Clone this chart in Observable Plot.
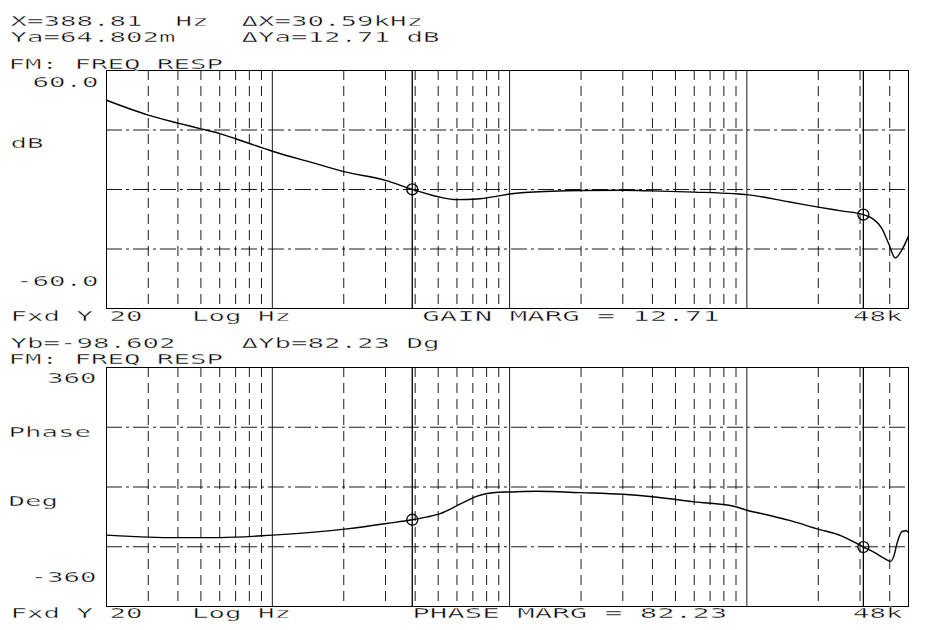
<!DOCTYPE html>
<html><head><meta charset="utf-8">
<script src="https://cdn.jsdelivr.net/npm/d3@7"></script>
<script src="https://cdn.jsdelivr.net/npm/@observablehq/plot@0.6"></script>
<style>body{margin:0;background:#fff} svg{display:block} .pa text,.pb text{stroke:#fff;stroke-width:0.35px}</style>
</head><body><div id="chart"></div>
<script>
// ---- data ----
const gainFreqHz = [20, 30, 40, 50, 60, 70, 80, 100, 150, 200, 300, 388.81, 450, 510, 600, 730, 900, 1000, 1500, 2000, 3000, 4000, 6000, 8800, 10000, 15000, 20000, 25000, 30979, 34000, 37000, 39500, 42200, 45000, 48000];
const gainDb     = [45, 37.5, 33.5, 30.6, 28.2, 25.6, 23.2, 19.3, 13.3, 9, 4.6, 0.065, -2.2, -3.9, -5.1, -4.8, -3.2, -2.3, -0.9, -0.5, -0.4, -0.7, -1.3, -2.1, -2.6, -6.2, -8.9, -10.8, -12.65, -14.8, -19.5, -27, -34.5, -30.5, -23.5];
const phaseFreqHz = [20, 30, 40, 60, 100, 150, 206, 310, 388.81, 450, 510, 620, 730, 900, 1000, 1300, 2000, 3000, 4000, 6000, 8800, 10000, 12500, 15000, 20000, 25000, 30979, 34600, 37800, 40300, 41600, 43000, 45100, 46900, 48000];
const phaseDeg    = [-145, -151, -152.5, -152.5, -145, -136, -126, -109, -98.6, -90, -80, -51, -27.5, -16, -15, -13, -17, -22, -29.5, -44.7, -58, -70, -86, -100, -127, -147, -180.8, -198, -214, -224, -209, -168, -134, -132, -137];
const markerFreqHz   = [388.81, 30979];
const markerGainDb   = [0.0648, -12.645];
const markerPhaseDeg = [-98.602, -180.832];
const decadeLines = [100, 1000, 10000];
const minorLines  = [30, 40, 50, 60, 70, 80, 90, 200, 300, 400, 500, 600, 700, 800, 900, 2000, 3000, 4000, 5000, 6000, 7000, 8000, 9000, 20000, 30000, 40000];
const gainGrid  = [30, 0, -30];
const phaseGrid = [180, 0, -180];
const freqDomain  = [20, 48000];
const gainDomain  = [-60, 60];
const phaseDomain = [-360, 360];
const gainHeader  = ["X=388.81  Hz  ΔX=30.59kHz", "Ya=64.802m    ΔYa=12.71 dB"];
const phaseHeader = ["Yb=-98.602    ΔYb=82.23 Dg"];
const traceTitle  = "FM: FREQ RESP";
const gainTickLabels  = ["60.0", "-60.0"];
const phaseTickLabels = ["360", "-360"];
const gainUnit  = "dB";
const phaseUnit = ["Phase", "Deg"];
const scaleNote = "Fxd Y 20   Log Hz";
const gainNote  = "GAIN MARG = 12.71";
const phaseNote = "PHASE MARG = 82.23";
const stopLabel = "48k";

const gainData  = gainFreqHz.map((f, i) => ({f, v: gainDb[i]}));
const phaseData = phaseFreqHz.map((f, i) => ({f, v: phaseDeg[i]}));
const gainMarks  = markerFreqHz.map((f, i) => ({f, v: markerGainDb[i]}));
const phaseMarks = markerFreqHz.map((f, i) => ({f, v: markerPhaseDeg[i]}));

const ink = "#000";
const style = {background: "#fff", color: ink, fontFamily: "'DejaVu Sans Mono', monospace", fontSize: "13.5px"};

function gridMarks(grid) {
  return [
    Plot.ruleX(minorLines, {stroke: ink, strokeWidth: 0.9, strokeDasharray: "10,6"}),
    Plot.ruleX(decadeLines, {stroke: ink, strokeWidth: 0.9}),
    Plot.ruleY(grid, {stroke: ink, strokeWidth: 0.9, strokeDasharray: "16,4,3,4"}),
    Plot.frame({stroke: ink, strokeWidth: 1}),
    Plot.ruleX(markerFreqHz, {stroke: ink, strokeWidth: 1.3})
  ];
}

const gainPlot = Plot.plot({
  width: 939, height: 328,
  marginLeft: 106, marginRight: 31, marginTop: 70, marginBottom: 20,
  x: {type: "log", domain: freqDomain, axis: null},
  y: {domain: gainDomain, axis: null},
  style,
  marks: [
    ...gridMarks(gainGrid),
    Plot.line(gainData, {x: "f", y: "v", stroke: ink, strokeWidth: 1.4, curve: "monotone-x"}),
    Plot.dot(gainMarks, {x: "f", y: "v", r: 5.5, stroke: ink, strokeWidth: 1.3, fill: "none"}),
    Plot.text([gainHeader[0]], {frameAnchor: "top-left", textAnchor: "start", dx: -96, dy: -54, className: "pa"}),
    Plot.text([gainHeader[1]], {frameAnchor: "top-left", textAnchor: "start", dx: -96, dy: -38, className: "pa"}),
    Plot.text([traceTitle], {frameAnchor: "top-left", textAnchor: "start", dx: -98, dy: -11, className: "pa"}),
    Plot.text([gainTickLabels[0]], {frameAnchor: "top-left", textAnchor: "end", dx: -8, dy: 7, className: "pa"}),
    Plot.text([gainTickLabels[1]], {frameAnchor: "bottom-left", textAnchor: "end", dx: -8, dy: -23, className: "pa"}),
    Plot.text([gainUnit], {frameAnchor: "top-left", textAnchor: "start", dx: -96, dy: 68, className: "pa"}),
    Plot.text([scaleNote], {frameAnchor: "bottom-left", textAnchor: "start", dx: -96, dy: 12, className: "pa"}),
    Plot.text([gainNote], {x: [markerFreqHz[0]], frameAnchor: "bottom", textAnchor: "start", dx: 10, dy: 12, className: "pb"}),
    Plot.text([stopLabel], {frameAnchor: "bottom-right", textAnchor: "end", dx: -6, dy: 12, className: "pa"})
  ]
});

const phasePlot = Plot.plot({
  width: 939, height: 302,
  marginLeft: 106, marginRight: 31, marginTop: 39, marginBottom: 24,
  x: {type: "log", domain: freqDomain, axis: null},
  y: {domain: phaseDomain, axis: null},
  style,
  marks: [
    ...gridMarks(phaseGrid),
    Plot.line(phaseData, {x: "f", y: "v", stroke: ink, strokeWidth: 1.4, curve: "monotone-x"}),
    Plot.dot(phaseMarks, {x: "f", y: "v", r: 5.5, stroke: ink, strokeWidth: 1.3, fill: "none"}),
    Plot.text([phaseHeader[0]], {frameAnchor: "top-left", textAnchor: "start", dx: -96, dy: -29.5, className: "pa"}),
    Plot.text([traceTitle], {frameAnchor: "top-left", textAnchor: "start", dx: -98, dy: -13, className: "pa"}),
    Plot.text([phaseTickLabels[0]], {frameAnchor: "top-left", textAnchor: "end", dx: -10, dy: 6, className: "pa"}),
    Plot.text([phaseTickLabels[1]], {frameAnchor: "bottom-left", textAnchor: "end", dx: -10, dy: -25, className: "pa"}),
    Plot.text([phaseUnit[0]], {y: [phaseGrid[0]], frameAnchor: "left", textAnchor: "start", dx: -98, dy: 5, className: "pa"}),
    Plot.text([phaseUnit[1]], {y: [phaseGrid[1]], frameAnchor: "left", textAnchor: "start", dx: -98, dy: 15, className: "pa"}),
    Plot.text([scaleNote], {frameAnchor: "bottom-left", textAnchor: "start", dx: -96, dy: 11.5, className: "pa"}),
    Plot.text([phaseNote], {x: [markerFreqHz[0]], frameAnchor: "bottom", textAnchor: "start", dx: 0, dy: 11.5, className: "pb"}),
    Plot.text([stopLabel], {frameAnchor: "bottom-right", textAnchor: "end", dx: -6, dy: 11.5, className: "pa"})
  ]
});

// plotter-style wide lettering: stretch each label to a fixed character pitch
function stretch(svg) {
  for (const [cls, pitch] of [["pa", 16.5], ["pb", 17.5]]) {
    svg.querySelectorAll(`.${cls} text`).forEach(t => {
      const n = t.textContent.length;
      t.setAttribute("textLength", n * pitch);
      t.setAttribute("lengthAdjust", "spacingAndGlyphs");
    });
  }
}
stretch(gainPlot); stretch(phasePlot);
document.getElementById("chart").append(gainPlot, phasePlot);
</script></body></html>
